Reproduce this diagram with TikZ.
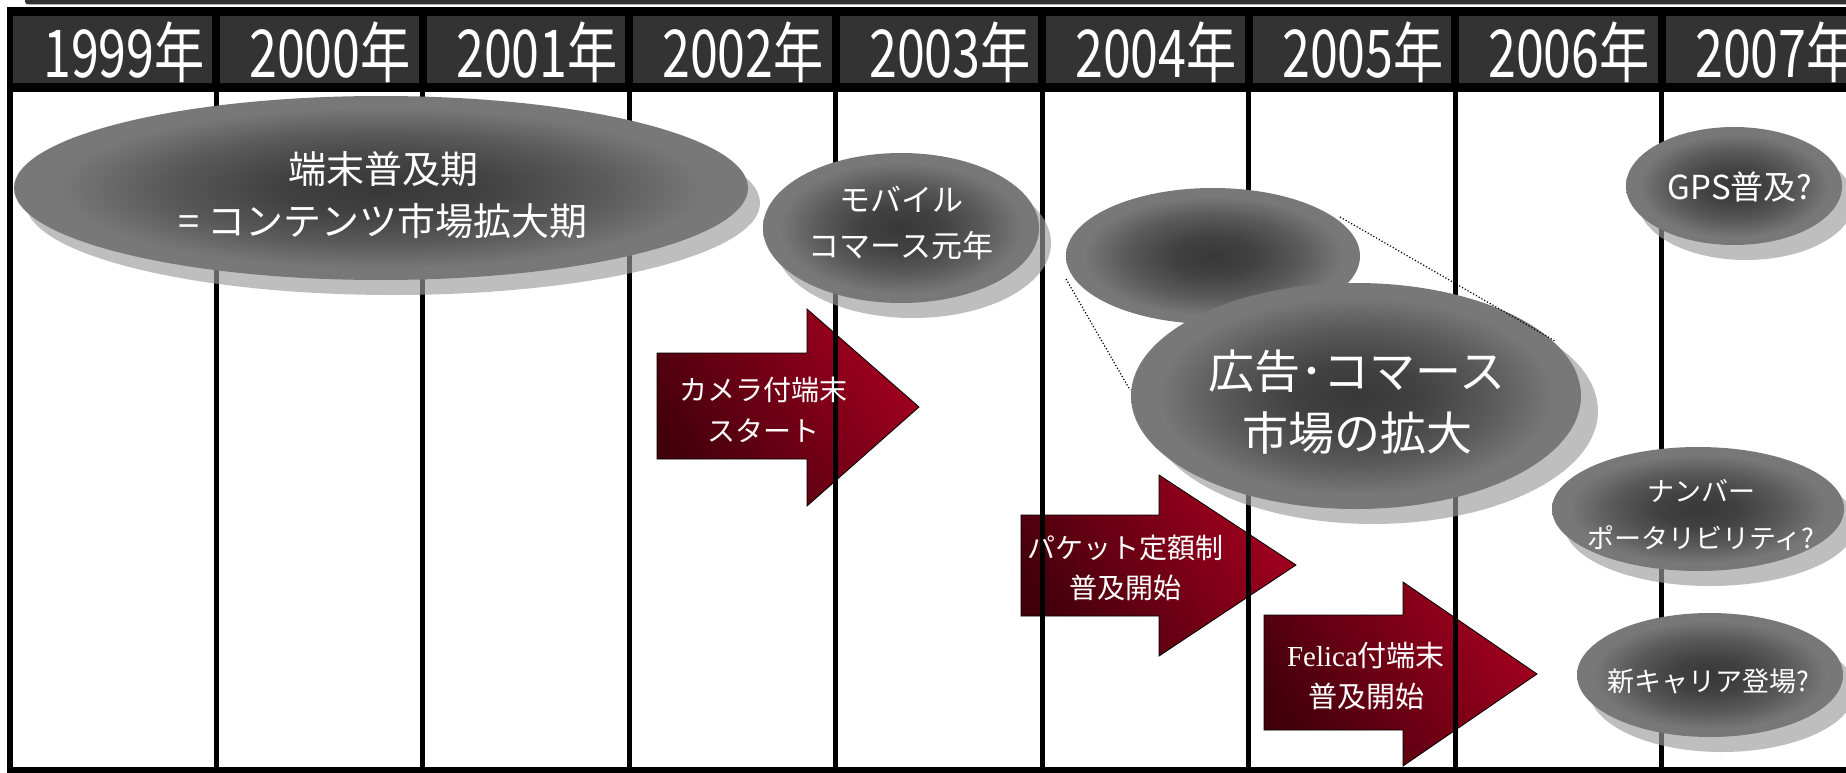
\documentclass[tikz,border=0pt]{standalone}
\usepackage{fontspec}
\setmainfont{Noto Sans CJK JP}
\newfontfamily\felicafont{Liberation Serif}
\usetikzlibrary{shapes.geometric}
\definecolor{hdr}{HTML}{333333}
\definecolor{ellin}{HTML}{383838}
\definecolor{ellin2}{HTML}{414141}
\definecolor{ellmid}{HTML}{5A5A5A}
\definecolor{ellout}{HTML}{787878}
\definecolor{shd}{HTML}{9C9C9C}
\definecolor{arrdark}{HTML}{42000B}
\definecolor{arrlite}{HTML}{A3001F}
\pgfdeclareradialshading{bubshading}{\pgfpoint{0bp}{0bp}}{color(0bp)=(ellin); color(7bp)=(ellin2); color(15bp)=(ellmid); color(22bp)=(ellout); color(50bp)=(ellout)}
\tikzset{
  bubble/.style={ellipse, inner sep=0pt, draw=none, shade, shading=bubshading},
  bubshadow/.style={ellipse, inner sep=0pt, draw=none, fill=shd, opacity=0.65},
  blockarrow/.style={draw=black, line width=0.8pt, left color=arrdark, right color=arrlite, shading angle=125},
  gridline/.style={black, line width=5pt},
  wtext/.style={text=white, align=center, inner sep=0pt},
  yeartext/.style={text=white, inner sep=0pt, font=\fontsize{66}{68}\selectfont},
  callout/.style={black, line width=1.2pt, dotted},
}
\begin{document}
\begin{tikzpicture}[x=1pt,y=-1pt]
\useasboundingbox (0,0) rectangle (1846,773);
\begin{scope}
\clip (0,0) rectangle (1846,773);
% top bar
\fill[hdr, rounded corners=3pt] (25,-6) rectangle (1860,4.5);
% frame
\fill[black] (7,7) rectangle (1860,773);
% header cells
\foreach \a/\b in {13/212, 220/418.5, 426.5/625, 633/831.5, 839.5/1038, 1046/1244.5, 1252.5/1451, 1459/1657.5, 1665.5/1860}
  \fill[hdr] (\a,16) rectangle (\b,83);
% body
\fill[white] (13,92) rectangle (1860,767);
% year labels
\foreach \yr/\cx in {1999/124, 2000/330, 2001/537, 2002/743, 2003/950, 2004/1156, 2005/1363, 2006/1569, 2007/1776}
  \node[yeartext] (y\yr) at (\cx,52) {\scalebox{0.76}[1]{\yr 年}};
% arrows (behind grid lines)
\path[blockarrow] (657,353) -- (807,353) -- (807,309) -- (919,407) -- (807,506) -- (807,459) -- (657,459) -- cycle;
\path[blockarrow] (1021,515) -- (1159,515) -- (1159,475) -- (1296,565) -- (1159,656) -- (1159,616) -- (1021,616) -- cycle;
\path[blockarrow] (1264,615) -- (1403,615) -- (1403,582) -- (1537,674) -- (1403,766) -- (1403,730) -- (1264,730) -- cycle;
% grid lines
\foreach \x in {216, 422.5, 629, 835.5, 1042, 1248.5, 1455, 1661.5}
  \draw[gridline] (\x,92) -- (\x,767);
% shadows
\node[bubshadow, minimum width=734pt, minimum height=184pt] (e1s) at (393,203) {};
\node[bubshadow, minimum width=276pt, minimum height=150pt] (e2s) at (913,243) {};
\node[bubshadow, minimum width=450pt, minimum height=226pt] (e4s) at (1373,411) {};
\node[bubshadow, minimum width=216pt, minimum height=118pt] (e5s) at (1746,201) {};
\node[bubshadow, minimum width=292pt, minimum height=124pt] (e6s) at (1710,524) {};
\node[bubshadow, minimum width=266pt, minimum height=124pt] (e7s) at (1722,690) {};
% bubbles
\node[bubble, minimum width=734pt, minimum height=184pt] (e1) at (381,188) {};
\node[bubble, minimum width=276pt, minimum height=150pt] (e2) at (901,228) {};
\node[bubble, minimum width=294pt, minimum height=136pt] (e3) at (1213,256) {};
\node[bubble, minimum width=450pt, minimum height=226pt] (e4) at (1356,396) {};
\node[bubble, minimum width=216pt, minimum height=118pt] (e5) at (1734,186) {};
\node[bubble, minimum width=292pt, minimum height=124pt] (e6) at (1698,509) {};
\node[bubble, minimum width=266pt, minimum height=124pt] (e7) at (1710,675) {};
% callout dotted lines
\coordinate (ca1) at (1340,217);
\coordinate (ca2) at (1555,341);
\coordinate (cb1) at (1066,279);
\coordinate (cb2) at (1130,390);
\draw[callout] (ca1) -- (ca2);
\draw[callout] (cb1) -- (cb2);
% bubble texts
\node[wtext, font=\fontsize{38}{52}\selectfont] (t1) at (383,195) {端末普及期\\= コンテンツ市場拡大期};
\node[wtext, font=\fontsize{31}{46}\selectfont] (t2) at (901,223) {モバイル\\コマース元年};
\node[wtext, font=\fontsize{46}{62}\selectfont] (t4) at (1357,402) {広告･コマース\\市場の拡大};
\node[wtext, font=\fontsize{33}{40}\selectfont] (t5) at (1740,187) {GPS普及?};
\node[wtext, font=\fontsize{27}{47}\selectfont] (t6) at (1701,515) {ナンバー\\ポータリビリティ?};
\node[wtext, font=\fontsize{27}{40}\selectfont] (t7) at (1708,681) {新キャリア登場?};
% arrow texts
\node[wtext, font=\fontsize{28}{41}\selectfont] (a1) at (763,410) {カメラ付端末\\スタート};
\node[wtext, font=\fontsize{28}{40}\selectfont] (a2) at (1125,568) {パケット定額制\\普及開始};
\node[wtext, font=\fontsize{29}{41}\selectfont] (a3) at (1366,676) {{\felicafont Felica}付端末\\普及開始};
\end{scope}
\end{tikzpicture}
\end{document}
